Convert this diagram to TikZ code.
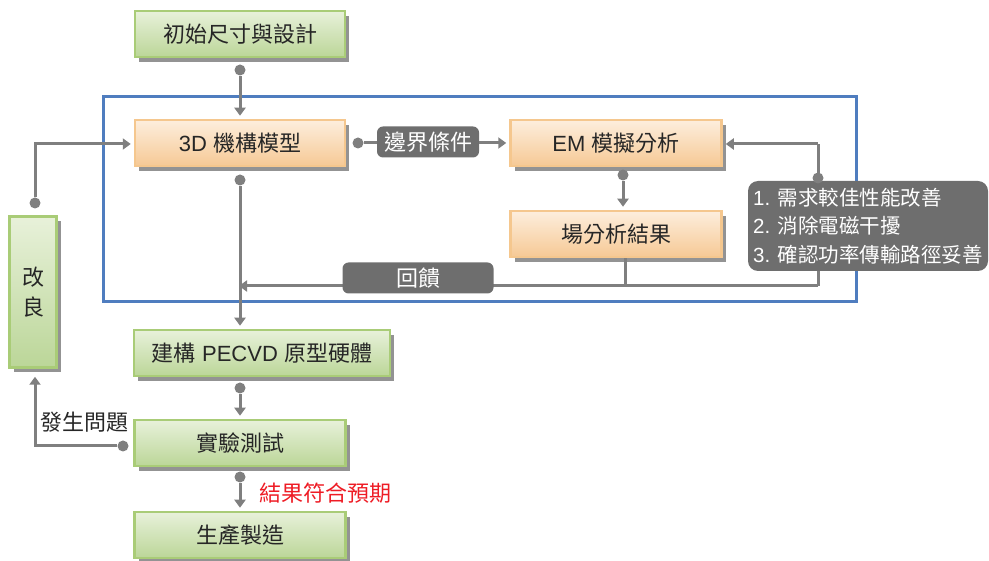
\documentclass[tikz,border=0pt]{standalone}
\usepackage{fontspec}
\setmainfont{Noto Sans CJK TC}
\newfontfamily\lat{Liberation Sans}
\usetikzlibrary{arrows.meta,shadows}
\definecolor{lineg}{HTML}{7F7F7F}
\definecolor{gborder}{HTML}{A9CC77}
\definecolor{gtop}{HTML}{E8F1DA}
\definecolor{gbot}{HTML}{BBD698}
\definecolor{oborder}{HTML}{F5C78E}
\definecolor{otop}{HTML}{FDEEDD}
\definecolor{obot}{HTML}{F6C995}
\definecolor{tagg}{HTML}{6E6E6E}
\definecolor{frameblue}{HTML}{4F7DBF}
\definecolor{redtxt}{HTML}{EE1C25}
\begin{document}
\begin{tikzpicture}[x=1pt,y=-1pt,
  font=\fontsize{22}{28}\selectfont,
  shad/.style={drop shadow={shadow xshift=4pt,shadow yshift=-5pt,fill=black!50,opacity=.85}},
  greenbox/.style={draw=gborder,line width=2.5pt,top color=gtop,bottom color=gbot,shad,
    minimum height=46pt,inner sep=0pt,text=black!85},
  orangebox/.style={draw=oborder,line width=2.5pt,top color=otop,bottom color=obot,shad,
    minimum height=46pt,inner sep=0pt,text=black!85},
  tag/.style={fill=tagg,rounded corners=6pt,text=white,inner sep=0pt,minimum height=31pt},
  conn/.style={draw=lineg,line width=3pt,-{Triangle[width=11pt,length=8pt]}},
  plain/.style={draw=lineg,line width=3pt},
  dot/.style={circle,fill=lineg,inner sep=0pt,minimum size=11pt}]
\useasboundingbox (0,0) rectangle (989,561);

% blue frame
\draw[frameblue,line width=3pt] (103,97) rectangle (856,302);

% nodes
\node[greenbox,minimum width=210pt] (init) at (240,34) {初始尺寸與設計};
\node[orangebox,minimum width=210pt] (m3d) at (240,143) {{\lat 3D }機構模型};
\node[tag,minimum width=102pt] (bc) at (428,142) {邊界條件};
\node[orangebox,minimum width=211pt] (em) at (616,143) {{\lat EM }模擬分析};
\node[orangebox,minimum width=211pt] (fa) at (616,234) {場分析結果};

% feedback lines (behind tags)
\coordinate (fbR) at (818,286);
\coordinate (faB) at (625,286);
\coordinate (fbL) at (241,286);
\draw[plain] (fa.south -| faB) -- (faB);
\draw[conn,shorten >=-2pt] (fbR) -- (fbL);
\draw[plain] (fbR) -- (818,260);
\draw[plain] (818,190) -- (818,144);
\draw[conn,shorten >=3pt] (818,144) -- (em.east |- 0,144);

\node[tag,minimum width=151pt] (fb) at (418,278) {回饋};
\node[tag,rounded corners=10pt,minimum width=240pt,minimum height=90pt,align=left,
      font=\fontsize{20.5}{28.5}\selectfont] (notes) at (868,226)
      {{\lat 1. }需求較佳性能改善\\{\lat 2. }消除電磁干擾\\{\lat 3. }確認功率傳輸路徑妥善};
\node[dot] (dn) at (818,178) {};

\node[greenbox,minimum width=47pt,minimum height=151pt,align=center,
      font=\fontsize{22}{30}\selectfont] (imp) at (33,292) {改\\良};
\node[greenbox,minimum width=256pt] (proto) at (262,353) {建構{\lat\ PECVD }原型硬體};
\node[greenbox,minimum width=211pt] (test) at (240,443) {實驗測試};
\node[greenbox,minimum width=211pt] (prod) at (240,535) {生產製造};

% connectors
\node[dot] (d1) at (240,70) {};
\draw[conn,shorten >=3pt] (d1) -- (m3d.north);

\node[dot] (d2) at (358,143) {};
\draw[plain] (d2) -- (bc.west |- d2);
\draw[conn,shorten >=3pt] (bc.east |- 0,143) -- (em.west |- 0,143);

\node[dot] (d3) at (623,175) {};
\draw[conn,shorten >=3pt] (d3) -- (fa.north -| d3);

\node[dot] (d4) at (240,180) {};
\draw[conn,shorten >=3pt] (d4) -- (proto.north -| d4);

\node[dot] (d5) at (240,388) {};
\draw[conn,shorten >=3pt] (d5) -- (test.north -| d5);

\node[dot] (d6) at (240,477) {};
\draw[conn,shorten >=3pt] (d6) -- (prod.north -| d6);

\node[dot] (d7) at (123,446) {};
\draw[conn,shorten >=8pt] (d7) -- (35,446) -- (imp.south -| 35,0);

\node[dot] (d8) at (35,203) {};
\draw[conn,shorten >=3pt] (d8) -- (35,144) -- (m3d.west |- 0,144);

% labels
\node[text=black!85,anchor=west] (lbl1) at (37,422) {發生問題};
\node[text=redtxt,anchor=west] (lbl2) at (256,493) {結果符合預期};
\end{tikzpicture}
\end{document}
